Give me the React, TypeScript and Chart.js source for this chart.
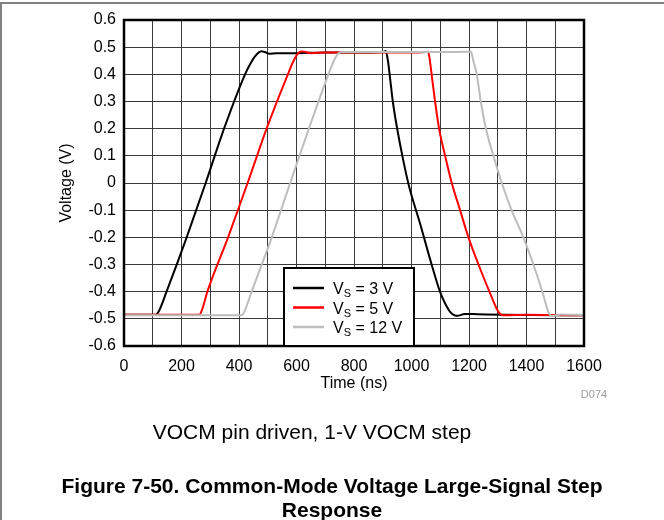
import { useEffect, useRef } from 'react';
import { Chart, registerables } from 'chart.js';

Chart.register(...registerables);

const FONT = '"Liberation Sans", Arial, Helvetica, sans-serif';

// V_S = 3 V trace (time in ns, voltage in V)
const t3V = [0, 110, 122, 148, 218, 284, 348, 421, 440, 455, 468, 478, 490, 505, 530, 600, 700, 800, 900, 910, 918, 925, 935, 949, 971, 991, 1030, 1070, 1099, 1120, 1135, 1150, 1160, 1185, 1230, 1320, 1600];
const v3V = [-0.485, -0.485, -0.47, -0.4, -0.2, 0, 0.2, 0.4, 0.44, 0.465, 0.48, 0.485, 0.482, 0.476, 0.478, 0.478, 0.48, 0.48, 0.482, 0.486, 0.45, 0.39, 0.3, 0.207, 0.085, -0.01, -0.15, -0.3, -0.4, -0.45, -0.475, -0.487, -0.489, -0.482, -0.483, -0.485, -0.487];

// V_S = 5 V trace
const t5V = [0, 262, 272, 290, 362, 430, 496, 570, 590, 608, 620, 650, 700, 800, 900, 1000, 1050, 1058, 1064, 1070, 1082, 1096, 1117, 1140, 1169, 1198, 1233, 1271, 1295, 1308, 1320, 1400, 1500, 1600];
const v5V = [-0.485, -0.485, -0.465, -0.4, -0.2, 0, 0.2, 0.4, 0.45, 0.48, 0.484, 0.478, 0.48, 0.48, 0.48, 0.48, 0.482, 0.483, 0.45, 0.4, 0.3, 0.2, 0.1, 0, -0.1, -0.2, -0.3, -0.4, -0.46, -0.482, -0.487, -0.485, -0.486, -0.487];

// V_S = 12 V trace
const t12V = [0, 410, 422, 444, 514, 578, 643, 711, 730, 745, 760, 800, 900, 1000, 1100, 1200, 1207, 1215, 1227, 1241, 1259, 1285, 1314, 1348, 1389, 1424, 1455, 1470, 1478, 1488, 1520, 1600];
const v12V = [-0.487, -0.487, -0.465, -0.4, -0.2, 0, 0.2, 0.4, 0.45, 0.477, 0.482, 0.482, 0.482, 0.482, 0.482, 0.483, 0.483, 0.45, 0.4, 0.3, 0.2, 0.1, 0, -0.1, -0.2, -0.3, -0.4, -0.455, -0.48, -0.49, -0.484, -0.486];

const seriesNames = ['3 V', '5 V', '12 V'];
const seriesColors = ['#000000', '#ff0000', '#bdbdbd'];

const X_MIN = 0;
const X_MAX = 1600;
const X_GRID_STEP = 100;
const X_LABEL_STEP = 200;
const Y_MIN = -0.6;
const Y_MAX = 0.6;
const Y_STEP = 0.1;

const xTitle = 'Time (ns)';
const yTitle = 'Voltage (V)';
const figId = 'D074';
const caption = 'VOCM pin driven, 1-V VOCM step';
const titleLines = ['Figure 7-50. Common-Mode Voltage Large-Signal Step', 'Response'];

const toPoints = (ts: number[], vs: number[]) => ts.map((t, i) => ({ x: t, y: vs[i] }));

const decorPlugin = {
  id: 'decor',
  afterDraw(chart: any) {
    const { ctx, chartArea: a } = chart;
    ctx.save();

    // outer figure frame (top and left edges)
    ctx.strokeStyle = '#808080';
    ctx.lineWidth = 2;
    ctx.beginPath();
    ctx.moveTo(0, 3);
    ctx.lineTo(664, 3);
    ctx.moveTo(1, 3);
    ctx.lineTo(1, 520);
    ctx.stroke();

    // heavy plot border
    ctx.strokeStyle = '#000';
    ctx.lineWidth = 2.5;
    ctx.strokeRect(a.left, a.top, a.right - a.left, a.bottom - a.top);

    // legend box
    const lx = 284;
    const ly = 268;
    const lw = 130;
    const lh = a.bottom - ly;
    ctx.fillStyle = '#fff';
    ctx.fillRect(lx, ly, lw, lh);
    ctx.lineWidth = 2;
    ctx.strokeStyle = '#000';
    ctx.strokeRect(lx, ly, lw, lh);

    const rowY = [288, 307.5, 327];
    seriesNames.forEach((name, i) => {
      ctx.strokeStyle = seriesColors[i];
      ctx.lineWidth = 2.5;
      ctx.beginPath();
      ctx.moveTo(293, rowY[i]);
      ctx.lineTo(324, rowY[i]);
      ctx.stroke();

      const base = rowY[i] + 6;
      ctx.fillStyle = '#000';
      ctx.textAlign = 'left';
      ctx.textBaseline = 'alphabetic';
      ctx.font = `16px ${FONT}`;
      let x = 333;
      ctx.fillText('V', x, base);
      x += ctx.measureText('V').width;
      ctx.font = `11px ${FONT}`;
      ctx.fillText('S', x, base + 3);
      x += ctx.measureText('S').width;
      ctx.font = `16px ${FONT}`;
      ctx.fillText(` = ${name}`, x, base);
    });

    // axis titles
    ctx.fillStyle = '#000';
    ctx.font = `16px ${FONT}`;
    ctx.textAlign = 'center';
    ctx.textBaseline = 'middle';
    ctx.fillText(xTitle, (a.left + a.right) / 2, 384);
    ctx.save();
    ctx.translate(67, (a.top + a.bottom) / 2);
    ctx.rotate(-Math.PI / 2);
    ctx.fillText(yTitle, 0, 0);
    ctx.restore();

    // figure id
    ctx.fillStyle = '#9a9a9a';
    ctx.font = `11px ${FONT}`;
    ctx.fillText(figId, 594, 395);

    // caption and figure title
    ctx.fillStyle = '#000';
    ctx.textBaseline = 'alphabetic';
    ctx.font = `21px ${FONT}`;
    ctx.fillText(caption, 312, 439);
    ctx.font = `bold 21px ${FONT}`;
    ctx.fillText(titleLines[0], 332, 493);
    ctx.fillText(titleLines[1], 332, 517);

    ctx.restore();
  },
};

export default function App() {
  const canvasRef = useRef<HTMLCanvasElement | null>(null);

  useEffect(() => {
    const canvas = canvasRef.current;
    if (!canvas) return;
    const traces = [
      toPoints(t3V, v3V),
      toPoints(t5V, v5V),
      toPoints(t12V, v12V),
    ];
    const chart = new Chart(canvas, {
      type: 'line',
      data: {
        datasets: traces.map((pts, i) => ({
          label: `VS = ${seriesNames[i]}`,
          data: pts,
          borderColor: seriesColors[i],
          backgroundColor: seriesColors[i],
          borderWidth: 2,
          pointRadius: 0,
          cubicInterpolationMode: 'monotone',
          fill: false,
          order: 3 - i,
        })),
      },
      options: {
        responsive: false,
        animation: false,
        devicePixelRatio: 1,
        layout: { padding: { left: 64, right: 80, top: 20, bottom: 144 } },
        plugins: {
          legend: { display: false },
          tooltip: { enabled: false },
        },
        scales: {
          x: {
            type: 'linear',
            min: X_MIN,
            max: X_MAX,
            border: { display: false },
            grid: { color: '#3a3a3a', lineWidth: 1, drawTicks: false },
            ticks: {
              stepSize: X_GRID_STEP,
              autoSkip: false,
              maxRotation: 0,
              padding: 11,
              color: '#000',
              font: { family: FONT, size: 16 },
              callback: (v: any) => (Math.round(v) % X_LABEL_STEP === 0 ? String(Math.round(v)) : ''),
            },
            afterFit: (s: any) => {
              s.height = 30;
            },
          },
          y: {
            type: 'linear',
            min: Y_MIN,
            max: Y_MAX,
            border: { display: false },
            grid: { color: '#3a3a3a', lineWidth: 1, drawTicks: false },
            ticks: {
              stepSize: Y_STEP,
              autoSkip: false,
              padding: 8,
              color: '#000',
              font: { family: FONT, size: 16 },
              callback: (v: any) => {
                const r = Math.round(v * 10) / 10;
                return r === 0 ? '0' : r.toFixed(1);
              },
            },
            afterFit: (s: any) => {
              s.width = 60;
            },
          },
        },
      },
      plugins: [decorPlugin],
    } as any);
    return () => chart.destroy();
  }, []);

  return (
    <div style={{ position: 'absolute', left: 0, top: 0, width: 664, height: 520, background: '#fff' }}>
      <canvas ref={canvasRef} width={664} height={520} style={{ display: 'block' }} />
    </div>
  );
}
